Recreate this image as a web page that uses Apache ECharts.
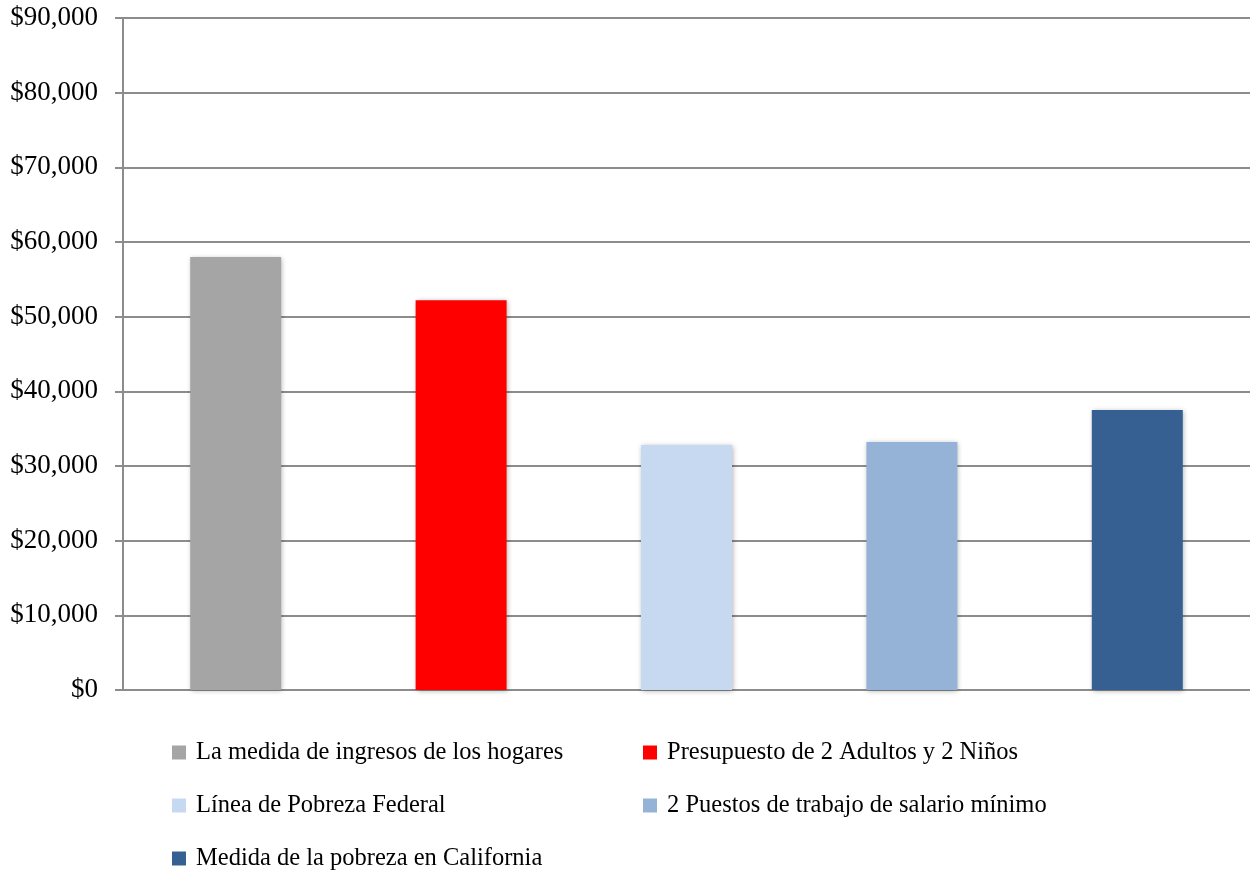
<!DOCTYPE html>
<html>
<head>
<meta charset="utf-8">
<script src="https://cdn.jsdelivr.net/npm/echarts@6/dist/echarts.min.js"></script>
<style>
html,body{margin:0;padding:0;background:#fff;}
#c{width:1257px;height:873px;}
</style>
</head>
<body>
<div id="c"></div>
<script>
var categories = ["La medida de ingresos de los hogares", "Presupuesto de 2 Adultos y 2 Niños", "Línea de Pobreza Federal", "2 Puestos de trabajo de salario mínimo", "Medida de la pobreza en California"];
var values = [58000, 52200, 32800, 33200, 37500];
var colors = ["#a5a5a5", "#ff0000", "#c6d9f1", "#95b3d7", "#366092"];
var yTicks = [0, 10000, 20000, 30000, 40000, 50000, 60000, 70000, 80000, 90000];

var font = "'Liberation Serif', serif";
var series = categories.map(function (name, i) {
  var d = categories.map(function (_, j) { return j === i ? values[i] : null; });
  return {
    name: name,
    type: 'bar',
    stack: 'all',
    barWidth: 91,
    data: d,
    itemStyle: {
      color: colors[i],
      shadowBlur: 5,
      shadowColor: 'rgba(0,0,0,0.3)',
      shadowOffsetX: 1,
      shadowOffsetY: 1
    }
  };
});

function fmt(v) {
  return '$' + v.toLocaleString('en-US');
}

var legendCommon = {
  orient: 'vertical',
  icon: 'rect',
  itemWidth: 14,
  itemHeight: 14,
  itemGap: 28,
  padding: 0,
  top: 740,
  textStyle: { fontFamily: font, fontSize: 24.5, color: '#000', lineHeight: 24, padding: [0, 0, 0, 5] }
};

var chart = echarts.init(document.getElementById('c'));
chart.setOption({
  animation: false,
  grid: { left: 123, right: 7, top: 18, bottom: 183 },
  xAxis: {
    type: 'category',
    data: categories,
    axisLine: { show: false },
    axisTick: { show: false },
    axisLabel: { show: false }
  },
  yAxis: {
    type: 'value',
    min: 0,
    max: yTicks[yTicks.length - 1],
    interval: yTicks[1] - yTicks[0],
    axisLine: { show: true, lineStyle: { color: '#8c8c8c', width: 2 } },
    axisTick: { show: true, length: 8, lineStyle: { color: '#8c8c8c', width: 2 } },
    splitLine: { show: true, lineStyle: { color: '#8c8c8c', width: 2 } },
    axisLabel: {
      margin: 25,
      fontFamily: font,
      fontSize: 27,
      color: '#000',
      formatter: fmt
    }
  },
  legend: [
    Object.assign({}, legendCommon, { left: 172, data: [categories[0], categories[2], categories[4]] }),
    Object.assign({}, legendCommon, { left: 643, data: [categories[1], categories[3]] })
  ],
  series: series
});
</script>
</body>
</html>
